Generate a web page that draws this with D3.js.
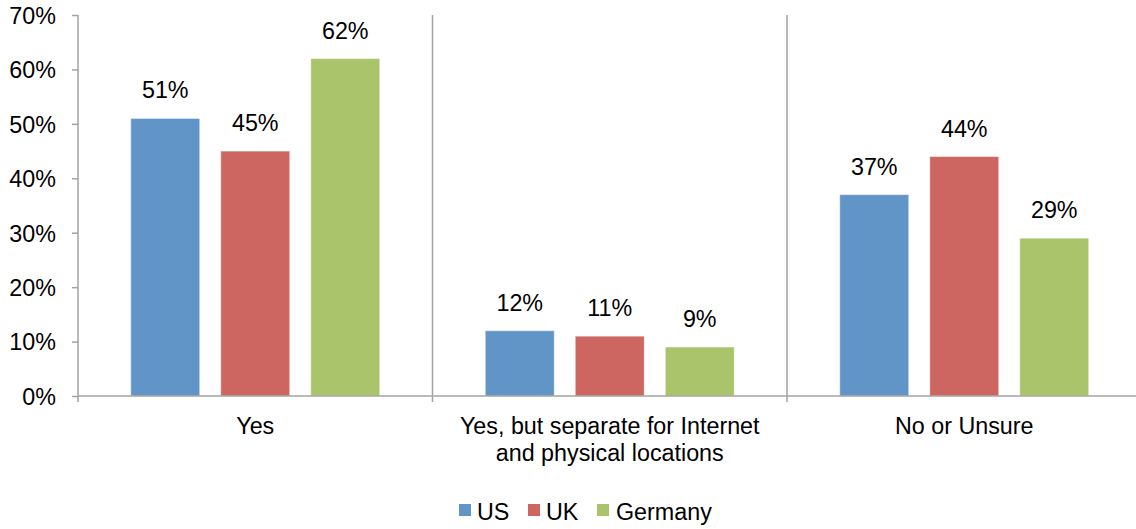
<!DOCTYPE html>
<html>
<head>
<meta charset="utf-8">
<script src="https://cdn.jsdelivr.net/npm/d3@7"></script>
<style>
  html, body { margin: 0; padding: 0; background: #fff; }
  svg { display: block; font-family: "Liberation Sans", Arial, sans-serif; }
</style>
</head>
<body>
<svg id="chart" width="1136" height="529"></svg>
<script>
// Survey answers by country
const categories = ["Yes", "Yes, but separate for Internet|and physical locations", "No or Unsure"];
const seriesNames = ["US", "UK", "Germany"];
const usValues = [51, 12, 37];
const ukValues = [45, 11, 44];
const germanyValues = [62, 9, 29];
const yTicks = [0, 10, 20, 30, 40, 50, 60, 70];
const colors = ["#6195c8", "#cd6660", "#aac46c"];

const values = [usValues, ukValues, germanyValues];

const svg = d3.select("#chart");
const plotLeft = 78, plotTop = 15, plotBottom = 396;
const catStep = 354.5;
const fontSize = 23.3;

const x = d3.scaleBand()
  .domain(categories)
  .range([plotLeft, plotLeft + catStep * categories.length])
  .padding(0);

const xInner = d3.scaleBand()
  .domain(seriesNames)
  .range([0, x.bandwidth()])
  .paddingInner(0.2333)
  .paddingOuter(0.586);

const y = d3.scaleLinear().domain([0, 70]).range([plotBottom, plotTop]);

const axisColor = "#a3a3a3";

// category separators spanning the plot height
const bounds = categories.map(c => x(c)).concat([x.range()[1]]);
svg.append("g").selectAll("line")
  .data(bounds.slice(1))
  .join("line")
  .attr("x1", d => d).attr("x2", d => d)
  .attr("y1", y(70)).attr("y2", plotBottom + 6)
  .attr("stroke", axisColor).attr("stroke-width", 1.5);

// bars and value labels
const groups = svg.append("g").selectAll("g")
  .data(categories)
  .join("g")
  .attr("transform", d => `translate(${x(d)},0)`);

groups.each(function(cat, ci) {
  const g = d3.select(this);
  seriesNames.forEach((s, si) => {
    const v = values[si][ci];
    g.append("rect")
      .attr("x", xInner(s))
      .attr("y", y(v))
      .attr("width", xInner.bandwidth())
      .attr("height", y(0) - y(v))
      .attr("fill", colors[si])
      .attr("stroke", "#ffffff")
      .attr("stroke-opacity", 0.5)
      .attr("stroke-width", 1);
    g.append("text")
      .attr("x", xInner(s) + xInner.bandwidth() / 2)
      .attr("y", y(v) - 20)
      .attr("text-anchor", "middle")
      .attr("font-size", fontSize)
      .attr("fill", "#000")
      .text(v + "%");
  });
});

// y axis
const yAxis = d3.axisLeft(y)
  .tickValues(yTicks)
  .tickSize(6)
  .tickPadding(16)
  .tickFormat(d => d + "%");
const yg = svg.append("g").attr("transform", `translate(${plotLeft},0)`).call(yAxis);
yg.select(".domain").remove();
yg.selectAll(".tick line").attr("stroke", axisColor).attr("stroke-width", 1.5);
yg.selectAll(".tick text").attr("font-size", fontSize).attr("fill", "#000")
  .attr("font-family", "Liberation Sans, Arial, sans-serif").attr("dy", "0.36em");
svg.append("line")
  .attr("x1", plotLeft).attr("x2", plotLeft)
  .attr("y1", y(70)).attr("y2", plotBottom + 6)
  .attr("stroke", axisColor).attr("stroke-width", 1.5);

// x baseline
svg.append("line")
  .attr("x1", plotLeft).attr("x2", x.range()[1])
  .attr("y1", plotBottom).attr("y2", plotBottom)
  .attr("stroke", axisColor).attr("stroke-width", 1.5);

// category labels
svg.append("g").selectAll("text")
  .data(categories)
  .join("text")
  .attr("x", d => x(d) + x.bandwidth() / 2)
  .attr("y", 434)
  .attr("text-anchor", "middle")
  .attr("font-size", fontSize)
  .attr("fill", "#000")
  .each(function(d) {
    const lines = d.split("|");
    d3.select(this).selectAll("tspan")
      .data(lines)
      .join("tspan")
      .attr("x", x(d) + x.bandwidth() / 2)
      .attr("dy", (l, i) => i === 0 ? 0 : 27)
      .text(l => l);
  });

// legend
const legendPos = [
  { sx: 459, tx: 477 },
  { sx: 528, tx: 546 },
  { sx: 597, tx: 616 }
];
const lg = svg.append("g");
seriesNames.forEach((name, i) => {
  lg.append("rect")
    .attr("x", legendPos[i].sx).attr("y", 504)
    .attr("width", 12).attr("height", 12)
    .attr("fill", colors[i]);
  lg.append("text")
    .attr("x", legendPos[i].tx).attr("y", 520)
    .attr("font-size", fontSize)
    .attr("fill", "#000")
    .text(name);
});
</script>
</body>
</html>
